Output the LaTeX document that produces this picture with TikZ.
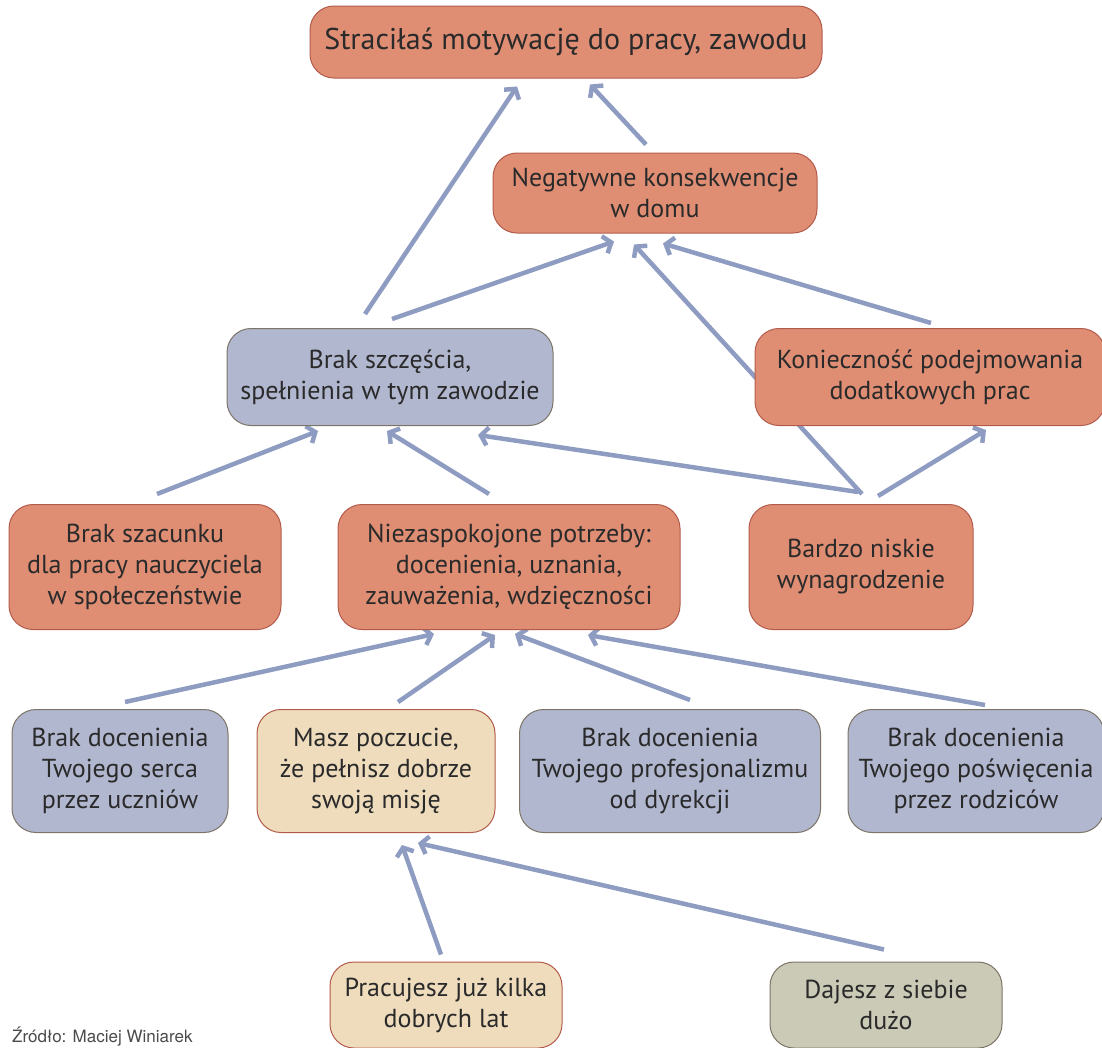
\documentclass[tikz,border=0pt]{standalone}
\usepackage{fontspec}
\setmainfont{PT Sans}
\newfontfamily\zrodlofont{TeX Gyre Heros}
\usetikzlibrary{arrows.meta, backgrounds}
\definecolor{problemfill}{HTML}{DF8E74}
\definecolor{problemdraw}{HTML}{B35B4B}
\definecolor{brakfill}{HTML}{B1B7CF}
\definecolor{brakdraw}{HTML}{7C7466}
\definecolor{atutfill}{HTML}{EEDCBD}
\definecolor{neutralfill}{HTML}{CBCAB7}
\definecolor{strzalka}{HTML}{8E9CC1}
\definecolor{tekst}{HTML}{2A2A2A}
\definecolor{zrodlo}{HTML}{4A4A4A}
\tikzstyle{box} = [rectangle, rounded corners=24pt, align=center, text=tekst, line width=1pt, inner sep=0pt, font=\fontsize{26}{31}\selectfont]
\tikzstyle{problem} = [box, draw=problemdraw, fill=problemfill]
\tikzstyle{brak} = [box, draw=brakdraw, fill=brakfill]
\tikzstyle{atut} = [box, draw=problemdraw, fill=atutfill]
\tikzstyle{neutral} = [box, draw=brakdraw, fill=neutralfill]
\tikzstyle{arrow} = [line width=4.5pt, draw=strzalka, -{Straight Barb[length=7pt,width=18pt]}]

\begin{document}
\begin{tikzpicture}[node distance=190pt]
\useasboundingbox (0pt,0pt) rectangle (1102pt,-1047pt);
\clip (0pt,0pt) rectangle (1102pt,-1047pt);
\node (strata) [problem, minimum width=512pt, minimum height=72pt, font=\fontsize{30}{34}\selectfont] at (566pt,-42pt) {Straciłaś motywację do pracy, zawodu};
\node (dom) [problem, below of=strata, xshift=89pt, yshift=39pt, minimum width=324pt, minimum height=80pt] {Negatywne konsekwencje\\w domu};
\node (szczescie) [brak, below of=dom, xshift=-265pt, yshift=6pt, minimum width=326pt, minimum height=97pt] {Brak szczęścia,\\spełnienia w tym zawodzie};
\node (dodatkowe) [problem, below of=dom, xshift=275pt, yshift=6pt, minimum width=350pt, minimum height=97pt] {Konieczność podejmowania\\dodatkowych prac};
\node (niezaspokojone) [problem, below of=szczescie, xshift=119pt, minimum width=342pt, minimum height=125pt] {Niezaspokojone potrzeby:\\docenienia, uznania,\\zauważenia, wdzięczności};
\node (szacunek) [problem, below of=szczescie, xshift=-245pt, minimum width=272pt, minimum height=125pt] {Brak szacunku\\dla pracy nauczyciela\\w społeczeństwie};
\node (wynagrodzenie) [problem, below of=dodatkowe, xshift=-69pt, minimum width=224pt, minimum height=125pt] {Bardzo niskie\\wynagrodzenie};
\node (serce) [brak, below of=szacunek, xshift=-25pt, yshift=-14pt, minimum width=216pt, minimum height=123pt] {Brak docenienia\\Twojego serca\\przez uczniów};
\node (misja) [atut, below of=niezaspokojone, xshift=-133pt, yshift=-14pt, minimum width=238pt, minimum height=123pt] {Masz poczucie,\\że pełnisz dobrze\\swoją misję};
\node (dyrekcja) [brak, below of=niezaspokojone, xshift=161pt, yshift=-14pt, minimum width=301pt, minimum height=123pt] {Brak docenienia\\Twojego profesjonalizmu\\od dyrekcji};
\node (rodzice) [brak, below of=wynagrodzenie, xshift=115pt, yshift=-14pt, minimum width=256pt, minimum height=123pt] {Brak docenienia\\Twojego poświęcenia\\przez rodziców};
\node (lata) [atut, below of=misja, xshift=70pt, yshift=-44pt, minimum width=232pt, minimum height=86pt] {Pracujesz już kilka\\dobrych lat};
\node (siebie) [neutral, below of=misja, xshift=510pt, yshift=-44pt, minimum width=232pt, minimum height=86pt] {Dajesz z siebie\\dużo};
\node (zrodlo) [anchor=base west, inner sep=0pt, text=zrodlo, font=\zrodlofont\fontsize{17}{20}\selectfont] at (12pt,-1042pt) {Źródło: Maciej Winiarek};

\begin{scope}[on background layer]
\draw [arrow] ([xshift=-25pt,yshift=14pt]szczescie.north) -- ([xshift=-49pt,yshift=-8pt]strata.south);
\draw [arrow] ([xshift=-9pt,yshift=8pt]dom.north) -- ([xshift=24pt,yshift=-6pt]strata.south);
\draw [arrow] ([xshift=2pt,yshift=9pt]szczescie.north) -- ([xshift=-41pt,yshift=-8pt]dom.south);
\draw [arrow] ([xshift=1pt,yshift=10pt]wynagrodzenie.north) -- ([xshift=-21pt,yshift=-11pt]dom.south);
\draw [arrow] ([xshift=1pt,yshift=5pt]dodatkowe.north) -- ([xshift=8pt,yshift=-10pt]dom.south);
\draw [arrow] ([xshift=17pt,yshift=8pt]wynagrodzenie.north) -- ([xshift=56pt,yshift=-4pt]dodatkowe.south);
\draw [arrow] ([xshift=-3pt,yshift=12pt]wynagrodzenie.north) -- ([xshift=88pt,yshift=-9pt]szczescie.south);
\draw [arrow] ([xshift=12pt,yshift=10pt]szacunek.north) -- ([xshift=-72pt,yshift=-5pt]szczescie.south);
\draw [arrow] ([xshift=-20pt,yshift=10pt]niezaspokojone.north) -- ([xshift=-3pt,yshift=-5pt]szczescie.south);
\draw [arrow] ([xshift=5pt,yshift=7pt]serce.north) -- ([xshift=-75pt,yshift=-4pt]niezaspokojone.south);
\draw [arrow] ([xshift=22pt,yshift=7pt]misja.north) -- ([xshift=-14pt,yshift=-5pt]niezaspokojone.south);
\draw [arrow] ([xshift=20pt,yshift=9pt]dyrekcja.north) -- ([xshift=6pt,yshift=-4pt]niezaspokojone.south);
\draw [arrow] ([xshift=9pt,yshift=4pt]rodzice.north) -- ([xshift=79pt,yshift=-5pt]niezaspokojone.south);
\draw [arrow] ([xshift=-5pt,yshift=7pt]lata.north) -- ([xshift=26pt,yshift=-12pt]misja.south);
\draw [arrow] ([xshift=-2pt,yshift=12pt]siebie.north) -- ([xshift=42pt,yshift=-10pt]misja.south);
\end{scope}
\end{tikzpicture}
\end{document}
